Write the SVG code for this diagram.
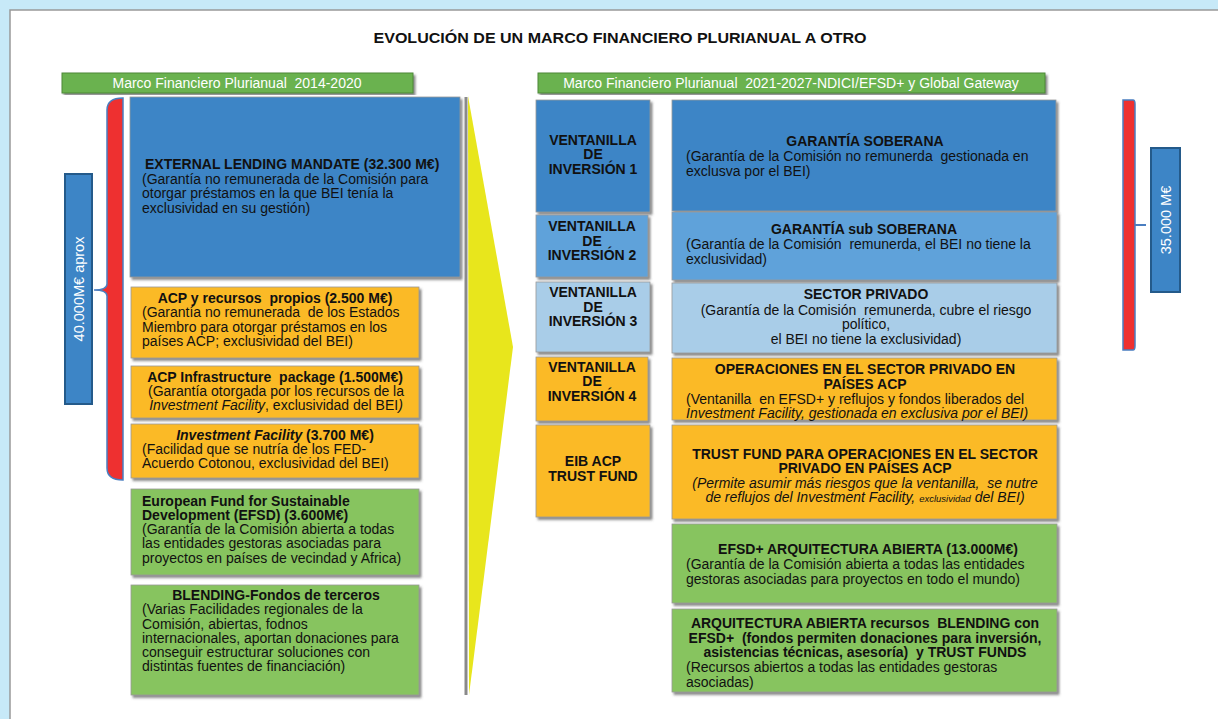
<svg xmlns="http://www.w3.org/2000/svg" width="1218" height="719" viewBox="0 0 1218 719">
<defs>
<filter id="sh" x="-5%" y="-5%" width="112%" height="115%">
<feDropShadow dx="2" dy="2.5" stdDeviation="1" flood-color="#555" flood-opacity="0.7"/>
</filter>
<style>
text{font-family:"Liberation Sans",Arial,sans-serif;fill:#111;font-size:14px;white-space:pre}
.b{font-weight:bold}
.c{text-anchor:middle}
.i{font-style:italic}
.box{stroke:#9a9a9a;stroke-width:0.8;filter:url(#sh)}
.db{fill:#3D85C6}
.mb{fill:#5FA2DA}
.lb{fill:#A9CDE8}
.or{fill:#FBBA28}
.gr{fill:#87C45E}
.hdr{fill:#6AB24F;stroke:#4C8838;stroke-width:1;filter:url(#sh)}
.hdrt{fill:#fff;font-size:14px;text-anchor:middle}
.brace{fill:#EE3030;stroke:#4A7EC0;stroke-width:1.5}
.tot{fill:#3D85C6;stroke:#245A8A;stroke-width:2}
.tott{fill:#fff;font-size:14.5px;text-anchor:middle}
</style>
</defs>
<rect width="1218" height="719" fill="#C7E9F8"/>
<rect x="10" y="10" width="1210" height="712" fill="#fff" stroke="#999" stroke-width="1.5"/>
<text id="title" x="620" y="43" class="b c" font-size="18" textLength="493" lengthAdjust="spacingAndGlyphs">EVOLUCIÓN DE UN MARCO FINANCIERO PLURIANUAL A OTRO</text>

<g id="hdr-left"><rect x="62" y="73" width="351" height="20" class="hdr"/><text x="237" y="88" class="hdrt">Marco Financiero Plurianual  2014-2020</text></g>
<g id="hdr-right"><rect x="538" y="73" width="507" height="20" class="hdr"/><text x="791" y="88" class="hdrt">Marco Financiero Plurianual  2021-2027-NDICI/EFSD+ y Global Gateway</text></g>

<g id="arrow">
<line x1="466" y1="97" x2="466" y2="695" stroke="#8a8a8a" stroke-width="3"/>
<polygon points="468,96 513,347 469,695" fill="#E8E61C"/>
</g>

<g id="brace-left">
<path class="brace" d="M123,98 Q107,98 107,110 L107,284 Q107,290 94,290 Q107,290 107,296 L107,468 Q107,480 123,480 Z"/>
</g>
<g id="total-left">
<rect x="65" y="174" width="27" height="230" class="tot"/>
<text transform="translate(83.5,289) rotate(-90)" class="tott">40.000M€ aprox</text>
</g>
<g id="brace-right">
<path class="brace" d="M1123,100 L1133,100 Q1135,100 1135,104 L1135,346 Q1135,350 1133,350 L1123,350 Z"/>
<line x1="1135" y1="225" x2="1146" y2="225" stroke="#4A7EC0" stroke-width="2"/>
</g>
<g id="total-right">
<rect x="1151" y="148" width="29" height="144" class="tot"/>
<text transform="translate(1170.5,220) rotate(-90)" class="tott">35.000 M€</text>
</g>

<g id="elm">
<rect x="130" y="97" width="330" height="180" class="box db"/>
<text x="145" y="169" class="b">EXTERNAL LENDING MANDATE (32.300 M€)</text>
<text x="142" y="183.5">(Garantía no remunerada de la Comisión para</text>
<text x="142" y="198">otorgar préstamos en la que BEI tenía la</text>
<text x="142" y="212.5">exclusividad en su gestión)</text>
</g>
<g id="acp-rp">
<rect x="131" y="287" width="288" height="71" class="box or"/>
<text x="275" y="303" class="b c">ACP y recursos  propios (2.500 M€)</text>
<text x="142" y="317">(Garantía no remunerada  de los Estados</text>
<text x="142" y="331.5">Miembro para otorgar préstamos en los</text>
<text x="142" y="346">países ACP; exclusividad del BEI)</text>
</g>
<g id="acp-infra">
<rect x="131" y="366" width="288" height="52" class="box or"/>
<text x="275" y="382" class="b c">ACP Infrastructure  package (1.500M€)</text>
<text x="276" y="396" class="c">(Garantía otorgada por los recursos de la</text>
<text x="276" y="410" class="c"><tspan class="i">Investment Facility</tspan>, exclusividad del BEI<tspan class="i">)</tspan></text>
</g>
<g id="inv-fac">
<rect x="131" y="424" width="288" height="54" class="box or"/>
<text x="275" y="440" class="b c"><tspan class="i">Investment Facility</tspan> (3.700 M€)</text>
<text x="142" y="454">(Facilidad que se nutría de los FED-</text>
<text x="142" y="468">Acuerdo Cotonou, exclusividad del BEI)</text>
</g>
<g id="efsd">
<rect x="131" y="489" width="288" height="86" class="box gr"/>
<text x="142" y="506" class="b">European Fund for Sustainable</text>
<text x="142" y="520" class="b">Development (EFSD) (3.600M€)</text>
<text x="142" y="534">(Garantía de la Comisión abierta a todas</text>
<text x="142" y="548">las entidades gestoras asociadas para</text>
<text x="142" y="562.5">proyectos en países de vecindad y Africa)</text>
</g>
<g id="blending">
<rect x="131" y="585" width="288" height="110" class="box gr"/>
<text x="276" y="600" class="b c">BLENDING-Fondos de terceros</text>
<text x="142" y="614">(Varias Facilidades regionales de la</text>
<text x="142" y="628.5">Comisión, abiertas, fodnos</text>
<text x="142" y="642.5">internacionales, aportan donaciones para</text>
<text x="142" y="657">conseguir estructurar soluciones con</text>
<text x="142" y="671">distintas fuentes de financiación)</text>
</g>

<g id="vent1">
<rect x="536" y="100" width="114" height="112" class="box db"/>
<text x="593" y="145" class="b c">VENTANILLA</text>
<text x="593" y="159" class="b c">DE</text>
<text x="593" y="174" class="b c">INVERSIÓN 1</text>
</g>
<g id="gar-sob">
<rect x="672" y="100" width="384" height="111" class="box db"/>
<text x="865" y="146" class="b c">GARANTÍA SOBERANA</text>
<text x="686" y="161">(Garantía de la Comisión no remunerda  gestionada en</text>
<text x="686" y="176">exclusva por el BEI)</text>
</g>
<g id="vent2">
<rect x="536" y="215" width="112" height="62" class="box mb"/>
<text x="592" y="231" class="b c">VENTANILLA</text>
<text x="592" y="245.5" class="b c">DE</text>
<text x="592" y="260" class="b c">INVERSIÓN 2</text>
</g>
<g id="gar-subsob">
<rect x="672" y="212" width="385" height="68" class="box mb"/>
<text x="864" y="234" class="b c">GARANTÍA sub SOBERANA</text>
<text x="686" y="249">(Garantía de la Comisión  remunerda, el BEI no tiene la</text>
<text x="686" y="264">exclusividad)</text>
</g>
<g id="vent3">
<rect x="536" y="282" width="114" height="70" class="box lb"/>
<text x="593" y="297" class="b c">VENTANILLA</text>
<text x="593" y="311.5" class="b c">DE</text>
<text x="593" y="326" class="b c">INVERSIÓN 3</text>
</g>
<g id="sector-priv">
<rect x="672" y="283" width="385" height="70" class="box lb"/>
<text x="866" y="299" class="b c">SECTOR PRIVADO</text>
<text x="866" y="314.5" class="c">(Garantía de la Comisión  remunerda, cubre el riesgo</text>
<text x="866" y="329" class="c">político,</text>
<text x="866" y="344" class="c">el BEI no tiene la exclusividad)</text>
</g>
<g id="vent4">
<rect x="536" y="357" width="112" height="64" class="box or"/>
<text x="592" y="371.5" class="b c">VENTANILLA</text>
<text x="592" y="386" class="b c">DE</text>
<text x="592" y="400.5" class="b c">INVERSIÓN 4</text>
</g>
<g id="operaciones">
<rect x="672" y="358" width="385" height="62" class="box or"/>
<text x="865" y="374" class="b c">OPERACIONES EN EL SECTOR PRIVADO EN</text>
<text x="865" y="388.5" class="b c">PAÍSES ACP</text>
<text x="686" y="404">(Ventanilla  en EFSD+ y reflujos y fondos liberados del</text>
<text x="686" y="418" class="i">Investment Facility, gestionada en exclusiva por el BEI)</text>
</g>
<g id="eib-tf">
<rect x="536" y="425" width="114" height="92" class="box or"/>
<text x="593" y="466" class="b c">EIB ACP</text>
<text x="593" y="481" class="b c">TRUST FUND</text>
</g>
<g id="trust-fund">
<rect x="672" y="425" width="385" height="94" class="box or"/>
<text x="865" y="459" class="b c">TRUST FUND PARA OPERACIONES EN EL SECTOR</text>
<text x="865" y="473" class="b c">PRIVADO EN PAÍSES ACP</text>
<text x="865" y="488" class="c i">(Permite asumir más riesgos que la ventanilla,  se nutre</text>
<text x="865" y="502" class="c i">de reflujos del Investment Facility, <tspan font-size="9.5">exclusividad</tspan> del BEI)</text>
</g>
<g id="efsd-plus">
<rect x="672" y="524" width="385" height="79" class="box gr"/>
<text x="868" y="554" class="b c">EFSD+ ARQUITECTURA ABIERTA (13.000M€)</text>
<text x="686" y="569">(Garantía de la Comisión abierta a todas las entidades</text>
<text x="686" y="584">gestoras asociadas para proyectos en todo el mundo)</text>
</g>
<g id="arq-abierta">
<rect x="672" y="609" width="385" height="83" class="box gr"/>
<text x="865" y="628" class="b c">ARQUITECTURA ABIERTA recursos  BLENDING con</text>
<text x="865" y="642.5" class="b c">EFSD+  (fondos permiten donaciones para inversión,</text>
<text x="865" y="657" class="b c">asistencias técnicas, asesoría)  y TRUST FUNDS</text>
<text x="686" y="672">(Recursos abiertos a todas las entidades gestoras</text>
<text x="686" y="687">asociadas)</text>
</g>
<g id="connectors"/>
</svg>
